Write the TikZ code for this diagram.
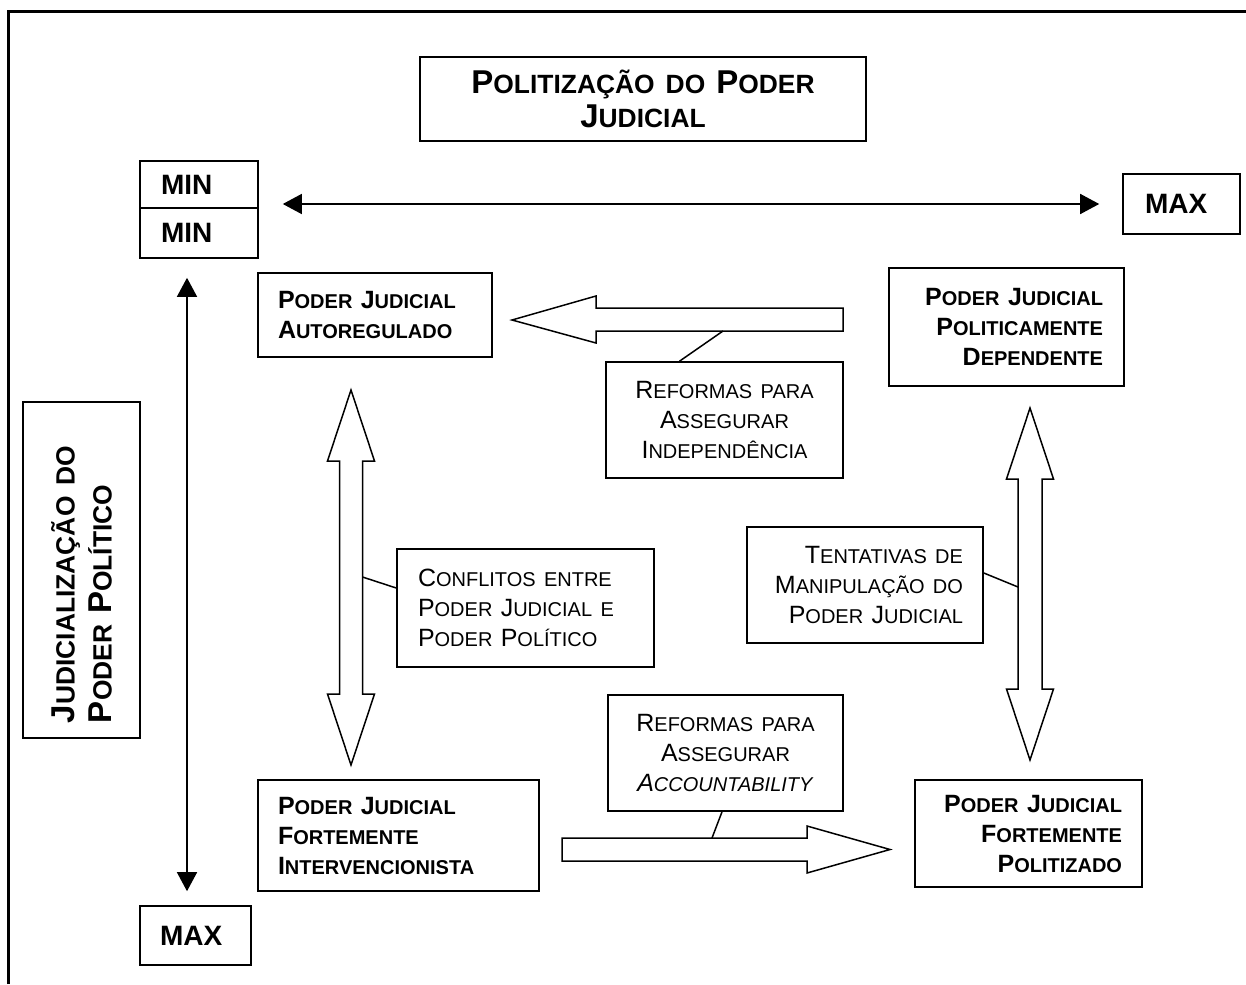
\documentclass[tikz,border=0pt]{standalone}
\usepackage{fontspec}
\setmainfont{Liberation Sans}
\usetikzlibrary{arrows.meta}
\makeatletter
\def\lc#1{{\fontsize{\fpeval{0.8*\f@size}}{\f@baselineskip}\selectfont #1}}
\makeatother

\begin{document}
\begin{tikzpicture}[x=1pt,y=-1pt,
    box/.style={draw,line width=1.6pt,inner ysep=0pt,inner xsep=20pt},
    bold/.style={font=\fontsize{25}{30}\selectfont\bfseries},
    plain/.style={font=\fontsize{25}{30}\selectfont},
    minmax/.style={box,align=left,font=\fontsize{28}{32}\selectfont\bfseries},
    axis/.style={line width=1.5pt,{Triangle[length=19pt,width=20pt]}-{Triangle[length=19pt,width=20pt]}},
    blockarrow/.style={draw,line width=1.5pt,line join=miter},
    link/.style={line width=1.5pt}]
			%%%%% START %%%%%
			\useasboundingbox (0,0) rectangle (1246,984);
			\draw[line width=3pt] (8,984) -- (8,12) -- (1246,12);
			
			\node[box, align=center, text width=406pt, minimum height=84, font=\fontsize{33}{34}\selectfont\bfseries] (titulo) at (643,99)
			{P\lc{OLITIZAÇÃO DO} P\lc{ODER}\\J\lc{UDICIAL}};
			
			\node[minmax, text width=76pt, inner xsep=21pt, minimum height=47] (minx) at (199,184.5) {MIN};
			\node[minmax, text width=76pt, inner xsep=21pt, minimum height=50] (miny) at (199,233) {MIN};
			\node[minmax, text width=73pt, inner xsep=22pt, minimum height=60] (maxx) at (1181.5,204) {MAX};
			\node[minmax, text width=71pt, minimum height=59] (maxy) at (195.5,935.5) {MAX};
			
			\node[box, rotate=90, align=left, text width=306pt, inner xsep=15pt, minimum height=117, font=\fontsize{33}{37}\selectfont\bfseries] (eixo) at (81.5,570)
			{J\lc{UDICIALIZAÇÃO DO}\\P\lc{ODER} P\lc{OLÍTICO}};
			
			\draw[axis, shorten <=24pt, shorten >=23pt] (maxx.west -| miny.north east) -- (maxx.west);
			\draw[axis, shorten <=19pt, shorten >=14pt] ([xshift=-12pt]miny.south) -- ([xshift=-8.5pt]maxy.north);
			
			% quadrantes
			\node[box, bold, align=left, text width=194pt, minimum height=84] (autoreg) at (375,315)
			{P\lc{ODER} J\lc{UDICIAL}\\A\lc{UTOREGULADO}};
			\node[box, bold, align=right, text width=193pt, inner xsep=21pt, minimum height=118] (dependente) at (1006.5,327)
			{P\lc{ODER} J\lc{UDICIAL}\\P\lc{OLITICAMENTE}\\D\lc{EPENDENTE}};
			\node[box, bold, align=left, text width=241pt, minimum height=111] (intervencionista) at (398.5,835.5)
			{P\lc{ODER} J\lc{UDICIAL}\\F\lc{ORTEMENTE}\\I\lc{NTERVENCIONISTA}};
			\node[box, bold, align=right, text width=187pt, minimum height=107] (politizado) at (1028.5,833.5)
			{P\lc{ODER} J\lc{UDICIAL}\\F\lc{ORTEMENTE}\\P\lc{OLITIZADO}};
			
			% setas largas
			\draw[blockarrow] (843,308) -- (596,308) -- (596,296) -- (512,320) -- (596,343) -- (596,331) -- (843,331) -- cycle;
			\draw[blockarrow] (562,838) -- (807,838) -- (807,826) -- (890,849.5) -- (807,873) -- (807,861) -- (562,861) -- cycle;
			\draw[blockarrow] (351,390) -- (374.5,461) -- (362.5,461) -- (362.5,694) -- (374.5,694) -- (351,765)
			  -- (327.5,694) -- (339.5,694) -- (339.5,461) -- (327.5,461) -- cycle;
			\draw[blockarrow] (1030,408) -- (1053.5,479) -- (1042,479) -- (1042,689) -- (1053.5,689) -- (1030,760)
			  -- (1006.5,689) -- (1018,689) -- (1018,479) -- (1006.5,479) -- cycle;
			\coordinate (sa) at (723,331);
			\coordinate (sb) at (712,838);
			\coordinate (sc) at (362.5,577);
			\coordinate (sd) at (1018,587);
			
			% legendas das setas
			\node[box, plain, align=center, text width=197pt, minimum height=116] (reformaind) at (724.5,420)
			{R\lc{EFORMAS PARA}\\A\lc{SSEGURAR}\\I\lc{NDEPENDÊNCIA}};
			\node[box, plain, align=left, text width=215pt, inner xsep=21pt, minimum height=118] (conflitos) at (525.5,608)
			{C\lc{ONFLITOS ENTRE}\\P\lc{ODER} J\lc{UDICIAL E}\\P\lc{ODER} P\lc{OLÍTICO}};
			\node[box, plain, align=right, text width=196pt, minimum height=116] (tentativas) at (865,585)
			{T\lc{ENTATIVAS DE}\\M\lc{ANIPULAÇÃO DO}\\P\lc{ODER} J\lc{UDICIAL}};
			\node[box, plain, align=center, text width=195pt, minimum height=116] (reformaacc) at (725.5,753)
			{R\lc{EFORMAS PARA}\\A\lc{SSEGURAR}\\\textit{A\lc{CCOUNTABILITY}}};
			
			\draw[link] ([xshift=-45pt]reformaind.north) -- (sa);
			\draw[link] ([xshift=-3.5pt]reformaacc.south) -- (sb);
			\draw[link] ([yshift=20pt]conflitos.west) -- (sc);
			\draw[link] ([yshift=12pt]tentativas.east) -- (sd);
			%%%%% END %%%%%
\end{tikzpicture}
\end{document}
